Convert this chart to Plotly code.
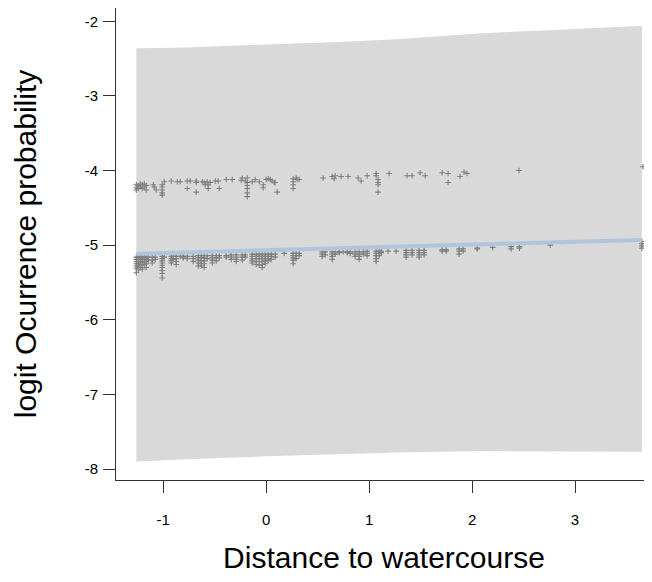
import plotly.graph_objects as go

# Confidence band (x grid, upper and lower bounds)
band_x = [-1.262, -0.77, 0.0, 0.65, 1.27, 2.1, 2.9, 3.65]
band_upper = [-2.36, -2.35, -2.31, -2.28, -2.24, -2.16, -2.11, -2.06]
band_lower = [-7.90, -7.87, -7.83, -7.80, -7.78, -7.76, -7.765, -7.77]

# Fitted line
fit_x = [-1.262, 3.65]
fit_y = [-5.115, -4.93]

# Partial residuals, upper cluster
upper_pts = [
    (-1.262, -4.19), (-1.262, -4.23), (-1.262, -4.26), (-1.243, -4.20), (-1.243, -4.24),
    (-1.223, -4.18), (-1.223, -4.22), (-1.204, -4.19), (-1.204, -4.24), (-1.184, -4.18),
    (-1.184, -4.22), (-1.165, -4.20), (-1.165, -4.26), (-1.097, -4.19), (-1.087, -4.22),
    (-1.068, -4.26), (-1.010, -4.19), (-1.010, -4.22), (-1.010, -4.26), (-1.010, -4.30),
    (-1.010, -4.33), (-0.990, -4.15), (-0.922, -4.14), (-0.864, -4.15), (-0.835, -4.15),
    (-0.767, -4.14), (-0.738, -4.14), (-0.767, -4.24), (-0.680, -4.14), (-0.680, -4.16),
    (-0.680, -4.29), (-0.621, -4.15), (-0.602, -4.16), (-0.592, -4.19), (-0.573, -4.15),
    (-0.563, -4.19), (-0.544, -4.16), (-0.563, -4.24), (-0.495, -4.14), (-0.466, -4.14),
    (-0.456, -4.24), (-0.388, -4.12), (-0.330, -4.12), (-0.233, -4.10), (-0.243, -4.13),
    (-0.184, -4.10), (-0.184, -4.16), (-0.184, -4.20), (-0.184, -4.24), (-0.184, -4.30),
    (-0.184, -4.35), (-0.204, -4.14), (-0.136, -4.15), (-0.107, -4.12), (-0.068, -4.15),
    (-0.029, -4.19), (-0.029, -4.23), (0.000, -4.12), (0.019, -4.11), (0.039, -4.12),
    (0.058, -4.14), (0.078, -4.16), (0.087, -4.16), (0.107, -4.29), (0.262, -4.11),
    (0.262, -4.15), (0.262, -4.19), (0.262, -4.24), (0.291, -4.10), (0.301, -4.12),
    (0.320, -4.12), (0.553, -4.10), (0.641, -4.08), (0.670, -4.07), (0.660, -4.11),
    (0.728, -4.08), (0.796, -4.08), (0.893, -4.10), (0.922, -4.14), (0.981, -4.07),
    (1.068, -4.04), (1.068, -4.07), (1.087, -4.12), (1.087, -4.16), (1.087, -4.19),
    (1.087, -4.29), (1.194, -4.04), (1.369, -4.07), (1.417, -4.07), (1.495, -4.03),
    (1.544, -4.07), (1.709, -4.03), (1.767, -4.04), (1.767, -4.16), (1.883, -4.08),
    (1.922, -4.02), (1.951, -4.04), (2.456, -4.00), (3.660, -3.95),
]

# Partial residuals, lower cluster (x, list of y values in that column)
lower_cols = [
    (-1.262, [-5.16, -5.19, -5.22, -5.25, -5.28, -5.31, -5.37]),
    (-1.243, [-5.16, -5.19, -5.22, -5.25, -5.28, -5.33]),
    (-1.223, [-5.16, -5.19, -5.22, -5.26, -5.30]),
    (-1.204, [-5.16, -5.19, -5.23, -5.27, -5.32]),
    (-1.184, [-5.16, -5.19, -5.22, -5.26]),
    (-1.165, [-5.16, -5.19, -5.22, -5.25, -5.30]),
    (-1.146, [-5.16, -5.20]),
    (-1.107, [-5.16, -5.20, -5.24]),
    (-1.078, [-5.16, -5.19]),
    (-1.010, [-5.15, -5.18, -5.21, -5.24, -5.27, -5.30, -5.34, -5.38, -5.44]),
    (-0.990, [-5.16]),
    (-0.922, [-5.15, -5.18, -5.21, -5.24]),
    (-0.903, [-5.15, -5.19]),
    (-0.874, [-5.15, -5.18, -5.22, -5.26]),
    (-0.835, [-5.15]),
    (-0.806, [-5.15, -5.17]),
    (-0.767, [-5.15, -5.18]),
    (-0.709, [-5.15, -5.18, -5.22]),
    (-0.660, [-5.14, -5.17, -5.20, -5.24, -5.28]),
    (-0.631, [-5.14, -5.17, -5.21, -5.25, -5.28]),
    (-0.602, [-5.14, -5.17, -5.21, -5.25, -5.30]),
    (-0.573, [-5.14, -5.18]),
    (-0.524, [-5.14, -5.17, -5.20, -5.24]),
    (-0.485, [-5.14, -5.17, -5.21]),
    (-0.456, [-5.14, -5.17]),
    (-0.388, [-5.14, -5.16]),
    (-0.340, [-5.13, -5.16, -5.19]),
    (-0.291, [-5.13, -5.16, -5.19, -5.22]),
    (-0.233, [-5.13, -5.16, -5.20]),
    (-0.204, [-5.13, -5.16]),
    (-0.136, [-5.12, -5.15, -5.18, -5.21, -5.24]),
    (-0.097, [-5.12, -5.15, -5.18, -5.22, -5.26]),
    (-0.068, [-5.12, -5.15, -5.18, -5.22, -5.27]),
    (-0.039, [-5.12, -5.15, -5.18, -5.22, -5.26, -5.30]),
    (-0.010, [-5.12, -5.15, -5.18, -5.21, -5.25]),
    (0.019, [-5.12, -5.15, -5.18, -5.21]),
    (0.049, [-5.12, -5.15, -5.19]),
    (0.087, [-5.12, -5.16]),
    (0.175, [-5.11]),
    (0.262, [-5.11, -5.14, -5.17, -5.20, -5.25]),
    (0.291, [-5.11, -5.14, -5.18]),
    (0.320, [-5.11, -5.14]),
    (0.544, [-5.09, -5.12, -5.15]),
    (0.573, [-5.09, -5.13]),
    (0.641, [-5.09, -5.12, -5.15, -5.19]),
    (0.670, [-5.09, -5.12]),
    (0.709, [-5.09, -5.10]),
    (0.748, [-5.09]),
    (0.787, [-5.09, -5.10]),
    (0.816, [-5.09, -5.11]),
    (0.864, [-5.09, -5.12, -5.15]),
    (0.903, [-5.09, -5.12, -5.15, -5.19]),
    (0.942, [-5.09, -5.12]),
    (0.981, [-5.08, -5.11, -5.14]),
    (1.068, [-5.08, -5.11, -5.14, -5.18, -5.22]),
    (1.097, [-5.08, -5.11, -5.14]),
    (1.117, [-5.08, -5.10]),
    (1.184, [-5.08]),
    (1.262, [-5.08]),
    (1.359, [-5.07, -5.10, -5.13, -5.16]),
    (1.417, [-5.07, -5.10, -5.13]),
    (1.485, [-5.07, -5.10, -5.13, -5.16]),
    (1.534, [-5.07, -5.10, -5.13]),
    (1.709, [-5.06, -5.08]),
    (1.748, [-5.06, -5.08]),
    (1.874, [-5.05, -5.08, -5.12]),
    (1.913, [-5.05, -5.08]),
    (2.050, [-5.04, -5.05]),
    (2.200, [-5.03]),
    (2.380, [-5.02, -5.05]),
    (2.460, [-5.02, -5.04]),
    (2.760, [-5.00]),
    (3.650, [-4.95, -4.98, -5.01, -5.04]),
]

x_ticks = [-1, 0, 1, 2, 3]
x_tick_labels = ["-1", "0", "1", "2", "3"]
y_ticks = [-8, -7, -6, -5, -4, -3, -2]
y_tick_labels = ["-8", "-7", "-6", "-5", "-4", "-3", "-2"]

pts_x = [p[0] for p in upper_pts] + [c[0] for c in lower_cols for _ in c[1]]
pts_y = [p[1] for p in upper_pts] + [y for c in lower_cols for y in c[1]]

fig = go.Figure()
fig.add_trace(go.Scatter(
    x=band_x + band_x[::-1], y=band_upper + band_lower[::-1],
    fill="toself", fillcolor="#d9d9d9", line=dict(width=0), mode="lines",
    hoverinfo="skip", showlegend=False))
fig.add_trace(go.Scatter(
    x=pts_x, y=pts_y, mode="markers", showlegend=False,
    marker=dict(symbol="cross-thin", size=4, color="#7f7f7f",
                line=dict(color="#7f7f7f", width=1.1))))
fig.add_trace(go.Scatter(
    x=fit_x, y=fit_y, mode="lines", showlegend=False,
    line=dict(color="#b0c4de", width=4)))

# The page body adds an 8px offset, so the figure is 8px smaller than the window
axis_font = dict(family="Liberation Sans, Arial, sans-serif", size=15, color="#000")
fig.update_layout(
    width=644, height=574,
    margin=dict(l=108, r=0, t=0, b=102, autoexpand=False),
    paper_bgcolor="white", plot_bgcolor="white",
    font=axis_font,
    xaxis=dict(range=[-1.459, 3.748], tickvals=x_ticks, ticktext=x_tick_labels,
               ticks="outside", ticklen=12, automargin=False,
               tickwidth=1, tickcolor="#333", showline=True, linecolor="#333", linewidth=1,
               mirror=True, showgrid=False, zeroline=False, ticklabelstandoff=14,
               title=dict(text="Distance to watercourse", font=dict(size=30), standoff=19)),
    yaxis=dict(range=[-8.147, -1.822], tickvals=y_ticks, ticktext=y_tick_labels,
               ticks="outside", ticklen=12, automargin=False,
               tickwidth=1, tickcolor="#333", showline=True, linecolor="#333", linewidth=1,
               mirror=False, showgrid=False, zeroline=False, ticklabelstandoff=2,
               title=dict(text="logit Ocurrence probability", font=dict(size=30), standoff=39)),
)
fig.write_html("out.html")
